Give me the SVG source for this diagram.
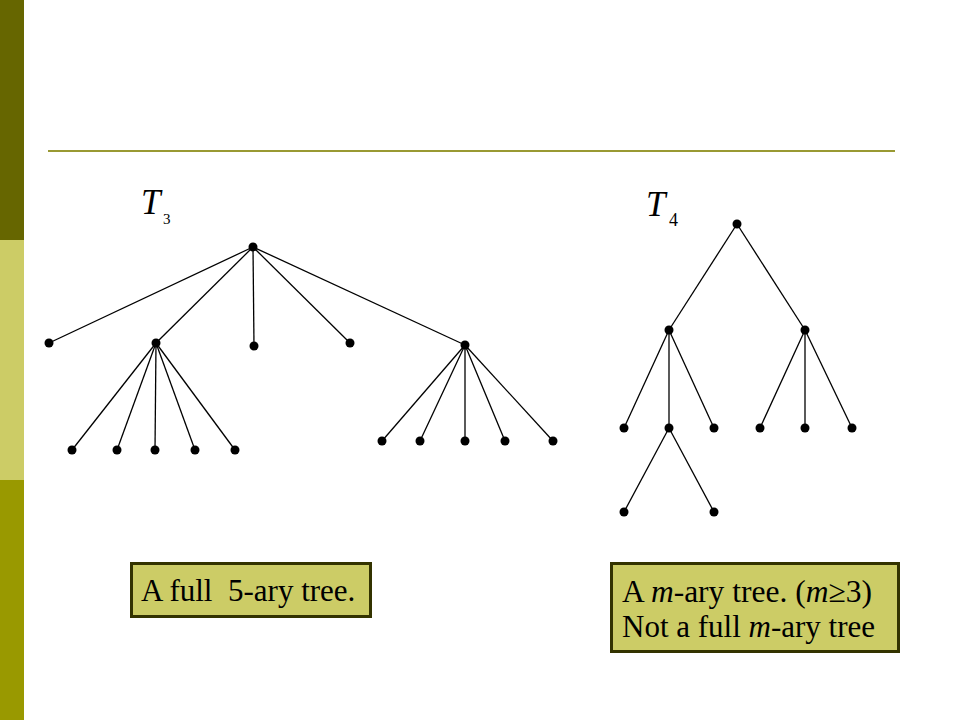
<svg xmlns="http://www.w3.org/2000/svg" width="960" height="720" viewBox="0 0 960 720">
<style>
.e{stroke:#000;stroke-width:1.3;fill:none}
.n{fill:#000}
.box{fill:#CCCC66;stroke:#333300;stroke-width:3}
.t{font-family:"Liberation Serif",serif;font-size:31px;fill:#000}
.lbl{font-family:"Liberation Serif",serif;font-style:italic;font-size:35px;fill:#000}
.sub{font-family:"Liberation Serif",serif;font-size:15px;fill:#000}
</style>
<rect width="960" height="720" fill="#fff"/>
<rect x="0" y="0" width="24" height="240" fill="#666600"/>
<rect x="0" y="240" width="24" height="240" fill="#CCCC66"/>
<rect x="0" y="480" width="24" height="240" fill="#999900"/>
<line x1="48" y1="151" x2="895" y2="151" stroke="#999933" stroke-width="2"/>
<g id="labels">
<text class="lbl" x="141" y="214">T</text><text class="sub" x="163" y="224">3</text>
<text class="lbl" x="646" y="216">T</text><text class="sub" x="669" y="226" style="font-size:18px">4</text>
</g>
<g id="connectors">
<line class="e" x1="253" y1="247" x2="49" y2="343"/>
<line class="e" x1="253" y1="247" x2="156" y2="343"/>
<line class="e" x1="253" y1="247" x2="254" y2="346"/>
<line class="e" x1="253" y1="247" x2="350" y2="343"/>
<line class="e" x1="253" y1="247" x2="465" y2="345"/>
<line class="e" x1="156" y1="343" x2="72" y2="450"/>
<line class="e" x1="156" y1="343" x2="117" y2="450"/>
<line class="e" x1="156" y1="343" x2="155" y2="450"/>
<line class="e" x1="156" y1="343" x2="195" y2="450"/>
<line class="e" x1="156" y1="343" x2="235" y2="450"/>
<line class="e" x1="465" y1="345" x2="382" y2="441"/>
<line class="e" x1="465" y1="345" x2="420" y2="441"/>
<line class="e" x1="465" y1="345" x2="465" y2="441"/>
<line class="e" x1="465" y1="345" x2="505" y2="441"/>
<line class="e" x1="465" y1="345" x2="553" y2="441"/>
<line class="e" x1="737" y1="224" x2="669" y2="330"/>
<line class="e" x1="737" y1="224" x2="805" y2="330"/>
<line class="e" x1="669" y1="330" x2="624" y2="428"/>
<line class="e" x1="669" y1="330" x2="669" y2="428"/>
<line class="e" x1="669" y1="330" x2="714" y2="428"/>
<line class="e" x1="805" y1="330" x2="760" y2="428"/>
<line class="e" x1="805" y1="330" x2="805" y2="428"/>
<line class="e" x1="805" y1="330" x2="852" y2="428"/>
<line class="e" x1="669" y1="428" x2="624" y2="512"/>
<line class="e" x1="669" y1="428" x2="714" y2="512"/>
</g>
<g id="t3-nodes">
<circle id="a0" class="n" cx="253" cy="247" r="4.5"/>
<circle id="a1" class="n" cx="49" cy="343" r="4.5"/>
<circle id="a2" class="n" cx="156" cy="343" r="4.5"/>
<circle id="a3" class="n" cx="254" cy="346" r="4.5"/>
<circle id="a4" class="n" cx="350" cy="343" r="4.5"/>
<circle id="a5" class="n" cx="465" cy="345" r="4.5"/>
<circle id="a6" class="n" cx="72" cy="450" r="4.5"/>
<circle id="a7" class="n" cx="117" cy="450" r="4.5"/>
<circle id="a8" class="n" cx="155" cy="450" r="4.5"/>
<circle id="a9" class="n" cx="195" cy="450" r="4.5"/>
<circle id="a10" class="n" cx="235" cy="450" r="4.5"/>
<circle id="a11" class="n" cx="382" cy="441" r="4.5"/>
<circle id="a12" class="n" cx="420" cy="441" r="4.5"/>
<circle id="a13" class="n" cx="465" cy="441" r="4.5"/>
<circle id="a14" class="n" cx="505" cy="441" r="4.5"/>
<circle id="a15" class="n" cx="553" cy="441" r="4.5"/>
</g>
<g id="t4-nodes">
<circle id="b0" class="n" cx="737" cy="224" r="4.5"/>
<circle id="b1" class="n" cx="669" cy="330" r="4.5"/>
<circle id="b2" class="n" cx="805" cy="330" r="4.5"/>
<circle id="b3" class="n" cx="624" cy="428" r="4.5"/>
<circle id="b4" class="n" cx="669" cy="428" r="4.5"/>
<circle id="b5" class="n" cx="714" cy="428" r="4.5"/>
<circle id="b6" class="n" cx="760" cy="428" r="4.5"/>
<circle id="b7" class="n" cx="805" cy="428" r="4.5"/>
<circle id="b8" class="n" cx="852" cy="428" r="4.5"/>
<circle id="b9" class="n" cx="624" cy="512" r="4.5"/>
<circle id="b10" class="n" cx="714" cy="512" r="4.5"/>
</g>
<g id="box1">
<rect class="box" x="131.5" y="563.5" width="239" height="53"/>
<text class="t" x="141" y="601" xml:space="preserve">A full  5-ary tree.</text>
</g>
<g id="box2">
<rect class="box" x="611.5" y="563.5" width="287" height="88"/>
<text class="t" x="622" y="602" style="font-size:31.5px">A <tspan font-style="italic">m</tspan>-ary tree. (<tspan font-style="italic">m</tspan>≥3)</text>
<text class="t" x="622" y="637">Not a full <tspan font-style="italic">m</tspan>-ary tree</text>
</g>
</svg>
